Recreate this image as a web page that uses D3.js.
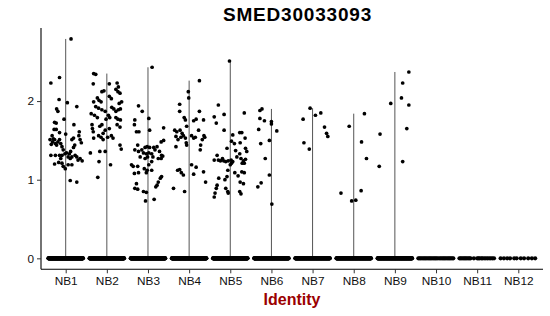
<!DOCTYPE html>
<html>
<head>
<meta charset="utf-8">
<script src="https://cdn.jsdelivr.net/npm/d3@7"></script>
<style>
  body { margin: 0; background: #fff; }
  svg { font-family: "Liberation Sans", Arial, sans-serif; }
</style>
</head>
<body>
<svg id="svg" width="550" height="316"></svg>
<script>
const categories = ['NB1', 'NB2', 'NB3', 'NB4', 'NB5', 'NB6', 'NB7', 'NB8', 'NB9', 'NB10', 'NB11', 'NB12'];
const yTicks = [0, 1, 2];

// non-zero expression values per identity
const nb1Values = [2.79, 2.23, 2.30, 2.02, 1.90, 1.87, 1.93, 1.98, 1.73, 1.72, 1.77, 1.64, 1.64, 1.70, 1.60, 1.58, 1.61, 1.56, 1.56, 1.52, 1.51, 1.48, 1.46, 1.44, 1.48, 1.51, 1.46, 1.42, 1.51, 1.45, 1.53, 1.51, 1.44, 1.51, 1.47, 1.38, 1.33, 1.31, 1.27, 1.41, 1.36, 1.33, 1.29, 1.31, 1.29, 1.25, 1.27, 1.24, 1.31, 1.31, 1.31, 1.34, 1.29, 1.27, 1.20, 1.22, 1.21, 1.17, 1.14, 1.19, 1.19, 0.99, 0.97];
const nb2Values = [2.35, 2.34, 2.22, 2.22, 2.13, 2.12, 2.23, 2.18, 2.15, 2.12, 2.10, 2.04, 2.01, 1.99, 1.99, 2.06, 2.03, 1.99, 1.97, 1.93, 1.91, 1.89, 1.87, 1.92, 1.90, 1.87, 1.89, 1.90, 1.84, 1.82, 1.79, 1.82, 1.79, 1.77, 1.79, 1.77, 1.76, 1.70, 1.68, 1.70, 1.65, 1.61, 1.65, 1.63, 1.59, 1.70, 1.67, 1.56, 1.54, 1.54, 1.53, 1.51, 1.56, 1.53, 1.44, 1.39, 1.34, 1.36, 1.36, 1.23, 1.19, 1.03];
const nb3Values = [2.43, 1.94, 1.87, 1.78, 1.76, 1.70, 1.61, 1.61, 1.63, 1.66, 1.48, 1.50, 1.44, 1.41, 1.42, 1.41, 1.41, 1.42, 1.38, 1.36, 1.38, 1.34, 1.33, 1.34, 1.33, 1.38, 1.36, 1.31, 1.30, 1.29, 1.27, 1.29, 1.29, 1.27, 1.27, 1.19, 1.17, 1.17, 1.23, 1.19, 1.14, 1.12, 1.12, 1.08, 1.09, 1.09, 1.04, 1.02, 0.97, 0.93, 0.91, 0.95, 0.89, 0.88, 0.85, 0.84, 0.73, 0.75];
const nb4Values = [2.26, 2.12, 2.04, 1.96, 1.87, 1.87, 1.79, 1.76, 1.77, 1.75, 1.76, 1.68, 1.63, 1.61, 1.63, 1.59, 1.63, 1.55, 1.51, 1.54, 1.56, 1.53, 1.47, 1.44, 1.56, 1.53, 1.54, 1.51, 1.56, 1.54, 1.44, 1.38, 1.42, 1.12, 1.13, 1.09, 1.06, 1.19, 1.16, 1.07, 1.10, 0.97, 0.89, 0.85];
const nb5Values = [2.51, 1.95, 1.83, 1.80, 1.72, 1.85, 1.63, 1.57, 1.60, 1.60, 1.53, 1.49, 1.46, 1.47, 1.40, 1.37, 1.40, 1.36, 1.31, 1.25, 1.25, 1.24, 1.27, 1.24, 1.23, 1.24, 1.25, 1.21, 1.23, 1.19, 1.27, 1.24, 1.26, 1.21, 1.21, 1.33, 1.29, 1.12, 1.09, 1.05, 1.10, 1.09, 1.02, 1.00, 1.04, 0.95, 0.97, 0.93, 0.89, 0.83, 0.89, 0.85, 0.83, 0.85, 0.82, 0.78];
const nb6Values = [1.90, 1.88, 1.78, 1.75, 1.74, 1.71, 1.64, 1.62, 1.46, 1.50, 1.27, 1.06, 0.96, 0.91, 0.69];
const nb7Values = [1.91, 1.77, 1.82, 1.85, 1.67, 1.59, 1.55, 1.47, 1.39];
const nb8Values = [1.84, 1.68, 1.48, 1.27, 0.83, 0.86, 0.73, 0.74];
const nb9Values = [2.37, 2.23, 2.04, 1.95, 1.97, 1.65, 1.23, 1.58, 1.17];
const nb10Values = [];
const nb11Values = [];
const nb12Values = [];

// horizontal jitter of those points, in category units
const nb1Jitter = [0.13, -0.36, -0.15, -0.16, -0.22, -0.19, 0.27, 0.04, -0.27, -0.23, -0.04, -0.23, -0.28, 0.20, -0.15, 0.00, 0.33, 0.32, -0.33, -0.30, -0.27, -0.32, -0.25, -0.22, -0.19, -0.15, -0.12, -0.09, -0.38, -0.35, 0.19, 0.15, 0.22, 0.35, 0.38, -0.06, -0.02, -0.09, -0.12, 0.19, 0.12, 0.09, 0.15, 0.23, 0.27, 0.30, 0.35, 0.40, -0.36, -0.25, -0.15, 0.02, 0.06, 0.11, -0.27, -0.17, -0.09, -0.06, -0.01, 0.06, 0.15, 0.11, 0.27];
const nb2Jitter = [-0.32, -0.27, -0.33, 0.06, -0.07, -0.12, 0.25, 0.28, 0.22, 0.27, 0.32, -0.23, -0.19, -0.14, -0.32, 0.06, 0.11, 0.36, 0.30, -0.27, -0.20, -0.12, -0.04, 0.12, 0.17, 0.22, 0.28, 0.33, -0.38, -0.30, -0.23, 0.04, 0.07, -0.02, 0.22, 0.27, 0.33, -0.12, -0.17, -0.36, -0.35, -0.33, 0.06, -0.04, -0.09, 0.25, 0.32, -0.20, -0.14, 0.02, -0.32, -0.09, 0.11, 0.15, 0.32, 0.35, -0.40, -0.17, -0.04, -0.19, 0.09, -0.22];
const nb3Jitter = [0.10, -0.23, -0.14, 0.02, -0.32, -0.33, -0.28, -0.22, 0.04, 0.38, 0.32, 0.38, -0.25, -0.07, -0.02, 0.04, 0.14, 0.22, -0.32, -0.23, -0.15, -0.11, -0.04, 0.02, 0.09, 0.17, 0.28, 0.33, 0.36, -0.19, -0.07, -0.01, 0.12, 0.25, 0.32, -0.40, -0.36, -0.25, 0.09, 0.02, -0.09, -0.02, 0.09, -0.33, -0.23, -0.04, 0.33, 0.30, 0.25, 0.22, 0.19, -0.28, -0.32, -0.25, -0.11, -0.04, -0.06, 0.15];
const nb4Jitter = [0.25, -0.02, -0.01, -0.23, -0.23, 0.25, -0.12, -0.09, 0.17, 0.11, 0.35, -0.06, -0.35, -0.30, -0.22, -0.17, 0.23, -0.32, -0.27, -0.20, -0.14, -0.09, -0.07, -0.06, 0.06, 0.11, 0.15, 0.32, 0.36, 0.38, 0.28, 0.27, -0.32, -0.28, -0.23, -0.19, -0.14, 0.06, 0.17, 0.11, 0.35, 0.40, -0.38, -0.11];
const nb5Jitter = [-0.02, -0.29, -0.15, -0.39, -0.34, 0.34, -0.15, 0.06, 0.23, 0.28, 0.36, 0.03, 0.10, 0.24, -0.08, 0.13, 0.37, 0.40, -0.32, -0.39, -0.29, -0.24, -0.19, -0.16, -0.11, -0.05, 0.02, 0.03, 0.06, 0.00, 0.26, 0.32, 0.37, 0.29, 0.34, 0.23, 0.16, -0.06, 0.11, 0.19, 0.28, 0.34, -0.28, -0.13, -0.08, 0.32, 0.24, -0.32, -0.34, -0.37, -0.11, -0.06, -0.05, 0.23, 0.26, -0.39];
const nb6Jitter = [-0.23, -0.28, -0.28, -0.17, 0.00, 0.00, -0.31, 0.13, -0.26, -0.05, -0.15, -0.05, -0.25, -0.33, 0.01];
const nb7Jitter = [-0.06, -0.23, 0.07, 0.20, 0.29, 0.34, 0.37, -0.21, -0.08];
const nb8Jitter = [0.26, -0.11, 0.19, 0.31, -0.31, 0.18, -0.05, 0.05];
const nb9Jitter = [0.34, 0.19, 0.16, 0.34, -0.10, 0.29, 0.19, -0.36, -0.38];

// cells with zero expression
const zeroCounts = [160, 160, 160, 160, 160, 140, 130, 130, 130, 0, 0, 0];
const nb10ZeroJitter = [-0.43, -0.40, -0.37, -0.34, -0.31, -0.28, -0.25, -0.22, -0.19, -0.16, -0.13, -0.10, -0.07, -0.04, -0.01, 0.02, 0.05, 0.09, 0.12, 0.15, 0.18, 0.21, 0.24, 0.27, 0.30, 0.33, 0.36, 0.39, 0.42];
const nb11ZeroJitter = [-0.43, -0.40, -0.37, -0.34, -0.31, -0.28, -0.25, -0.22, -0.19, -0.16, -0.08, 0.00, 0.03, 0.06, 0.10, 0.13, 0.17, 0.21, 0.25, 0.29, 0.33, 0.37, 0.41];
const nb12ZeroJitter = [-0.43, -0.35, -0.27, -0.20, -0.10, -0.04, 0.06, 0.14, 0.24, 0.33, 0.41];

const groupValues = [nb1Values, nb2Values, nb3Values, nb4Values, nb5Values, nb6Values, nb7Values, nb8Values, nb9Values, nb10Values, nb11Values, nb12Values];
const groupJitter = [nb1Jitter, nb2Jitter, nb3Jitter, nb4Jitter, nb5Jitter, nb6Jitter, nb7Jitter, nb8Jitter, nb9Jitter, [], [], []];
const sparseZeros = { NB10: nb10ZeroJitter, NB11: nb11ZeroJitter, NB12: nb12ZeroJitter };

const svg = d3.select('svg');
const margin = { left: 41, right: 7, top: 28, bottom: 46.7 };
const width = 550, height = 316;

const allMax = d3.max(groupValues.flat());
const pad = allMax * 0.05;

const x = d3.scalePoint()
	.domain(categories)
	.range([margin.left, width - margin.right])
	.padding(0.6);
const step = x.step();

const y = d3.scaleLinear()
	.domain([-pad, allMax + pad])
	.range([height - margin.bottom, margin.top]);

// collapsed violins: a line from 0 up to each group's max
const violins = categories.map((c, i) => ({ c, max: groupValues[i].length ? d3.max(groupValues[i]) : 0 }))
	.filter(d => d.max > 0);

svg.append('g')
	.selectAll('line')
	.data(violins)
	.enter()
	.append('line')
	.attr('x1', d => x(d.c))
	.attr('x2', d => x(d.c))
	.attr('y1', y(0))
	.attr('y2', d => y(d.max))
	.attr('stroke', '#555')
	.attr('stroke-width', 1);

// points
let points = [];
categories.forEach((c, i) => {
	const n = zeroCounts[i];
	if (sparseZeros[c]) {
		sparseZeros[c].forEach(j => points.push({ c, v: 0, j }));
	} else {
		d3.range(n).forEach(k => points.push({ c, v: 0, j: -0.42 + 0.84 * k / (n - 1) }));
	}
	groupValues[i].forEach((v, k) => points.push({ c, v, j: groupJitter[i][k] }));
});

svg.append('g')
	.selectAll('circle')
	.data(points)
	.enter()
	.append('circle')
	.attr('cx', d => x(d.c) + d.j * step)
	.attr('cy', d => y(d.v))
	.attr('r', d => d.v === 0 ? 2.1 : 1.85)
	.attr('fill', '#000');

// axes
const xAxis = svg.append('g')
	.attr('transform', `translate(0,${height - margin.bottom})`)
	.call(d3.axisBottom(x).tickSize(4).tickPadding(3));
const yAxis = svg.append('g')
	.attr('transform', `translate(${margin.left},0)`)
	.call(d3.axisLeft(y).tickValues(yTicks).tickFormat(d3.format('d')).tickSize(4).tickPadding(3));

[xAxis, yAxis].forEach(g => {
	g.select('.domain').attr('stroke', '#000').attr('stroke-width', 1.1);
	g.selectAll('.tick line').attr('stroke', '#333');
	g.selectAll('.tick text')
		.attr('fill', '#111')
		.style('font-size', '11.8px')
		.style('font-family', '"Liberation Sans", Arial, sans-serif');
});
// ggplot axis lines end at the panel edges, no outer ticks
xAxis.select('.domain').attr('d', `M${margin.left},0H${width - margin.right}`);
yAxis.select('.domain').attr('d', `M0,${height - margin.bottom}V${margin.top}`);

svg.append('text')
	.attr('x', 297.5)
	.attr('y', 21)
	.attr('text-anchor', 'middle')
	.style('font-weight', 'bold')
	.style('font-size', '19px')
	.style('letter-spacing', '0.8px')
	.text('SMED30033093');

svg.append('text')
	.attr('x', (margin.left + width - margin.right) / 2)
	.attr('y', 305)
	.attr('text-anchor', 'middle')
	.attr('fill', '#9b0000')
	.style('font-weight', 'bold')
	.style('font-size', '16px')
	.text('Identity');
</script>
</body>
</html>
